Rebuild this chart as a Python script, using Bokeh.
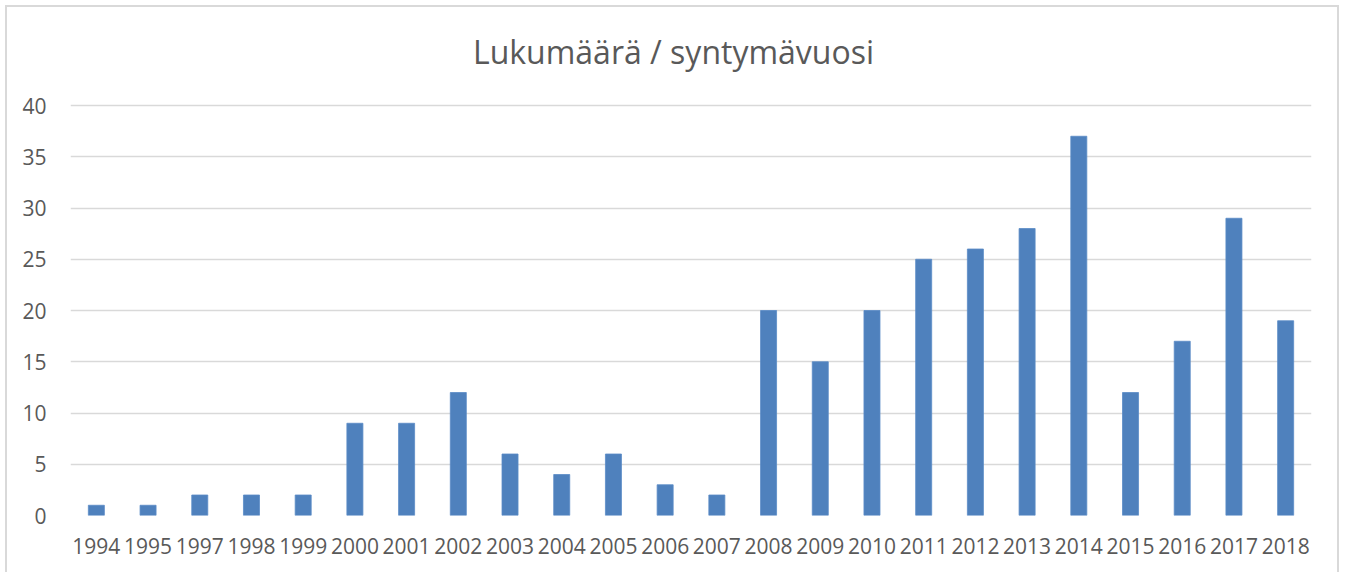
from bokeh.plotting import figure
from bokeh.models import Range1d, FixedTicker, Label
from bokeh.embed import file_html
from bokeh.resources import INLINE

years = ["1994", "1995", "1997", "1998", "1999", "2000", "2001", "2002", "2003",
         "2004", "2005", "2006", "2007", "2008", "2009", "2010", "2011", "2012",
         "2013", "2014", "2015", "2016", "2017", "2018"]
counts = [1, 1, 2, 2, 2, 9, 9, 12, 6, 4, 6, 3, 2, 20, 15, 20, 25, 26, 28, 37,
          12, 17, 29, 19]
y_ticks = [0, 5, 10, 15, 20, 25, 30, 35, 40]
title_text = "Lukumäärä / syntymävuosi"

FONT = "Open Sans"
TXT = "#595959"

# layout geometry (canvas px)
W, H = 1334, 567
B_LEFT, B_RIGHT, B_TOP, B_BOTTOM = 63, 30, 13, 59
AXIS_TOP_PX = 98          # where the value 40 sits
frame_h = H - B_TOP - B_BOTTOM
y_max = max(y_ticks)
px_per_unit = (H - B_BOTTOM - AXIS_TOP_PX) / y_max
y_end = frame_h / px_per_unit

p = figure(x_range=years, y_range=Range1d(0, y_end), width=W, height=H,
           output_backend="svg", toolbar_location=None, title=None,
           min_border_left=B_LEFT, min_border_right=B_RIGHT,
           min_border_top=B_TOP, min_border_bottom=B_BOTTOM)
p.styles = {"margin-left": "5px", "margin-top": "5px",
            "border-left": "2px solid #d9d9d9",
            "border-top": "2px solid #d9d9d9",
            "border-right": "2px solid #d9d9d9"}

# title placed in the headroom of the frame
frame_w = W - B_LEFT - B_RIGHT
title_px_x = 673 - 7 - B_LEFT
title_x = title_px_x / frame_w * len(years)
title_y = y_max + (AXIS_TOP_PX - 44) / px_per_unit
t = Label(text=title_text, x=title_x, y=title_y,
          text_align="center", text_baseline="middle",
          text_font=FONT, text_font_size="32px", text_color=TXT)
p.add_layout(t)

p.vbar(x=years, top=counts, width=0.31, fill_color="#4f81bd",
       line_color="#5b8cc6", line_width=0.8)

p.outline_line_color = None
p.background_fill_color = "white"
p.border_fill_color = "white"

p.xgrid.grid_line_color = None
p.ygrid.grid_line_color = "#d9d9d9"
p.ygrid.grid_line_width = 1.3
p.yaxis.ticker = FixedTicker(ticks=y_ticks)

for ax in (p.xaxis[0], p.yaxis[0]):
    ax.axis_line_color = None
    ax.major_tick_line_color = None
    ax.minor_tick_line_color = None
    ax.major_label_text_font = FONT
    ax.major_label_text_font_size = "21px"
    ax.major_label_text_color = TXT

p.xaxis.major_label_standoff = 16
p.yaxis.major_label_standoff = 18

open("out.html", "w").write(file_html(p, INLINE))
